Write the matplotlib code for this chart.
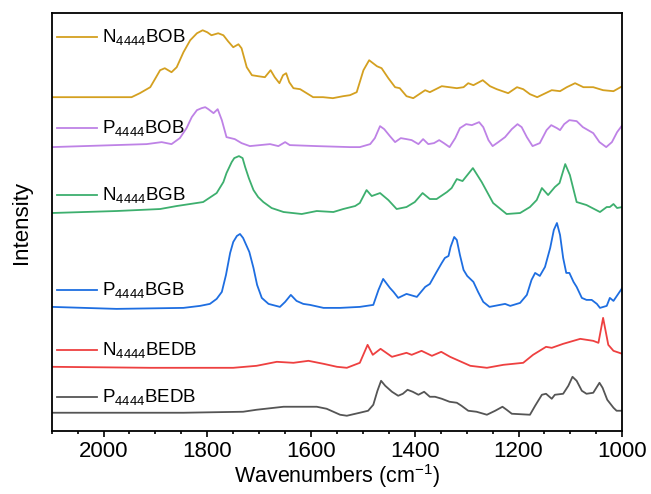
import numpy as np
import matplotlib
matplotlib.use("Agg")
import matplotlib.pyplot as plt
from matplotlib.ticker import MultipleLocator

plt.rcParams['font.family'] = ['Liberation Sans', 'DejaVu Sans']
plt.rcParams['mathtext.fontset'] = 'custom'
plt.rcParams['mathtext.rm'] = 'Liberation Sans'
plt.rcParams['mathtext.it'] = 'Liberation Sans:italic'

# FTIR spectra, offset stacked (arbitrary intensity units)
wn_n_bob = [2100, 1946, 1930, 1910, 1901, 1891, 1882, 1869, 1859, 1846, 1833, 1820, 1809,
            1800, 1792, 1779, 1769, 1760, 1750, 1740, 1734, 1724, 1714, 1702, 1689, 1678,
            1670, 1661, 1654, 1648, 1642, 1634, 1621, 1596, 1577,
            1558, 1538, 1525, 1512, 1499, 1488, 1473, 1464, 1451, 1438, 1429, 1416, 1403,
            1380, 1371, 1348, 1319, 1306, 1297, 1287, 1269, 1255, 1242, 1220, 1203, 1191,
            1178, 1164, 1152, 1136, 1120, 1107, 1091, 1075, 1056, 1037, 1017, 1000]
int_n_bob = [334, 334, 338, 344, 352, 361, 363, 359, 364, 379, 391, 398, 401,
             399, 396, 398, 396, 390, 384, 387, 383, 364, 356, 355, 354, 361,
             354, 348, 356, 358, 349, 343, 342, 334, 334,
             333, 335, 336, 339, 361, 371, 365, 363, 353, 344, 343, 335, 333,
             341, 339, 345, 343, 344, 348, 346, 351, 345, 342, 338, 344, 342,
             337, 334, 337, 341, 340, 344, 348, 344, 344, 341, 340, 345]

wn_p_bob = [2100, 1917, 1888, 1869, 1853, 1840, 1830, 1820, 1811, 1804, 1798, 1788, 1780,
            1772, 1763, 1747, 1734, 1718, 1679, 1663, 1650, 1641, 1589, 1525,
            1506, 1486, 1477, 1467, 1459, 1448, 1438, 1427, 1416, 1406, 1393, 1384, 1374,
            1363, 1353, 1344, 1333, 1322, 1313, 1301, 1290, 1276, 1268, 1258, 1250, 1239,
            1226, 1213, 1202, 1194, 1184, 1173, 1159, 1146, 1137, 1126, 1120, 1112, 1102,
            1088, 1076, 1056, 1044, 1031, 1020, 1010, 1000]
int_p_bob = [284, 287, 289, 287, 293, 303, 314, 321, 323, 324, 322, 318, 322,
             311, 294, 292, 288, 285, 287, 285, 289, 286, 285, 284,
             284, 287, 293, 305, 302, 295, 289, 293, 292, 291, 287, 292, 287,
             288, 291, 288, 284, 293, 303, 307, 306, 309, 304, 291, 285, 289,
             294, 302, 307, 304, 294, 285, 288, 301, 306, 303, 301, 307, 311,
             310, 304, 298, 289, 284, 289, 299, 306]

wn_n_bgb = [2100, 1975, 1891, 1859, 1808, 1782, 1769, 1763, 1753, 1748, 1739, 1732, 1727,
            1720, 1711, 1702, 1692, 1676,
            1653, 1618, 1589, 1557, 1538, 1515, 1506, 1493, 1483, 1467, 1451, 1435, 1416,
            1400, 1385, 1371, 1358, 1338, 1329, 1319, 1308, 1288, 1271, 1249, 1223, 1197,
            1178, 1165, 1155, 1143, 1130, 1121, 1110, 1101, 1088, 1069, 1043, 1030, 1024,
            1017, 1010, 1000]
int_n_bgb = [218, 220, 222, 225, 229, 238, 249, 258, 269, 273, 275, 273, 264,
             253, 241, 234, 229, 223,
             219, 217, 220, 219, 222, 225, 228, 241, 235, 238, 231, 222, 224,
             229, 238, 232, 232, 239, 243, 252, 250, 263, 249, 228, 217, 218,
             224, 231, 243, 236, 244, 248, 267, 256, 229, 226, 219, 224, 224,
             227, 223, 224]

wn_p_bgb = [2100, 1975, 1846, 1814, 1795, 1782, 1772, 1764, 1756, 1750, 1743, 1737, 1731,
            1719, 1711, 1704, 1695, 1682, 1660, 1650, 1639, 1628, 1615, 1602, 1576, 1544,
            1506, 1480, 1470, 1461, 1448, 1441, 1432, 1416, 1396, 1380, 1371, 1358, 1348,
            1342, 1335, 1331, 1324, 1319, 1313, 1306, 1299, 1287, 1278, 1268, 1256, 1236,
            1226, 1216, 1197, 1184, 1175, 1168, 1159, 1149, 1139, 1132, 1126, 1120, 1114,
            1108, 1102, 1094, 1088, 1078, 1069, 1059, 1049, 1043, 1030, 1024, 1017, 1000]
int_p_bgb = [124, 122, 123, 125, 127, 132, 139, 156, 178, 189, 195, 197, 193,
             179, 163, 146, 133, 127, 124, 129, 136, 130, 127, 126, 123, 123,
             124, 126, 141, 152, 143, 139, 133, 137, 134, 144, 147, 159, 168,
             173, 175, 184, 194, 191, 176, 161, 155, 149, 139, 129, 124, 126,
             127, 125, 128, 136, 151, 158, 155, 164, 183, 201, 208, 196, 173,
             158, 158, 149, 144, 133, 131, 131, 127, 123, 125, 133, 130, 143]

wn_n_bedb = [2100, 1910, 1750, 1705, 1666, 1634, 1605, 1576, 1550, 1531, 1506, 1491, 1481,
             1466, 1444, 1416, 1406, 1387, 1367, 1349, 1332, 1293, 1261, 1229, 1191, 1172,
             1147, 1136, 1114, 1081, 1056, 1046, 1037, 1027, 1017, 1000]
int_n_bedb = [64, 63, 63, 65, 69, 68, 70, 67, 64, 63, 68, 86, 76,
              82, 74, 78, 76, 80, 75, 79, 74, 65, 63, 66, 68, 76,
              84, 83, 87, 92, 90, 88, 113, 86, 80, 77]

wn_p_bedb = [2100, 1846, 1731, 1705, 1653, 1589, 1570, 1544, 1531, 1506, 1490, 1480,
             1472, 1465, 1457, 1444, 1432, 1423, 1414, 1404, 1393, 1382, 1371, 1361, 1348,
             1333, 1319, 1310, 1297, 1281, 1261, 1245, 1231, 1223, 1213, 1178, 1168, 1155,
             1147, 1136, 1130, 1114, 1104, 1096, 1088, 1078, 1069, 1056, 1044, 1038, 1029,
             1017, 1011, 1000]
int_p_bedb = [18, 18, 19, 21, 24, 24, 22, 16, 15, 18, 20, 26,
              40, 50, 45, 39, 35, 37, 41, 39, 36, 39, 34, 34, 32,
              29, 28, 25, 20, 19, 16, 20, 24, 21, 17, 16, 25, 36,
              37, 32, 36, 37, 45, 54, 50, 40, 37, 38, 48, 43, 31,
              23, 20, 20]

labels = ['N$_{4444}$BOB', 'P$_{4444}$BOB', 'N$_{4444}$BGB',
          'P$_{4444}$BGB', 'N$_{4444}$BEDB', 'P$_{4444}$BEDB']
colors = ['#D4A020', '#BE82E6', '#3DAF6E', '#1E6EE1', '#EE4040', '#555555']
label_y = [394, 303, 236, 141, 81, 34]

series = [(wn_n_bob, int_n_bob), (wn_p_bob, int_p_bob), (wn_n_bgb, int_n_bgb),
          (wn_p_bgb, int_p_bgb), (wn_n_bedb, int_n_bedb), (wn_p_bedb, int_p_bedb)]

fig = plt.figure(figsize=(6.51, 4.94), dpi=100)
ax = fig.add_axes([0.0794, 0.1281, 0.8765, 0.845])

for (wn, inten), lab, c, ly in zip(series, labels, colors, label_y):
    ax.plot(wn, inten, color=c, lw=1.3, solid_joinstyle='round')
    ax.plot([2090, 2012], [ly, ly], color=c, lw=1.3)
    ax.text(2003, ly, lab, color='black', fontsize=13.5, va='center', ha='left')

ax.set_xlim(2100, 1000)
ax.set_ylim(0, 418)
ax.xaxis.set_major_locator(MultipleLocator(200))
ax.xaxis.set_minor_locator(MultipleLocator(50))
ax.tick_params(axis='x', which='major', direction='out', length=4.5, width=1.2,
               labelsize=16, pad=3)
ax.tick_params(axis='x', which='minor', direction='out', length=2.5, width=1.2)
ax.tick_params(axis='y', left=False, labelleft=False)
for sp in ax.spines.values():
    sp.set_linewidth(1.3)

ax.set_xlabel('Wavenumbers (cm$^{-1}$)', fontsize=15.5, labelpad=0)
ax.set_ylabel('Intensity', fontsize=16, labelpad=14)

fig.savefig('out.png', dpi=100)
